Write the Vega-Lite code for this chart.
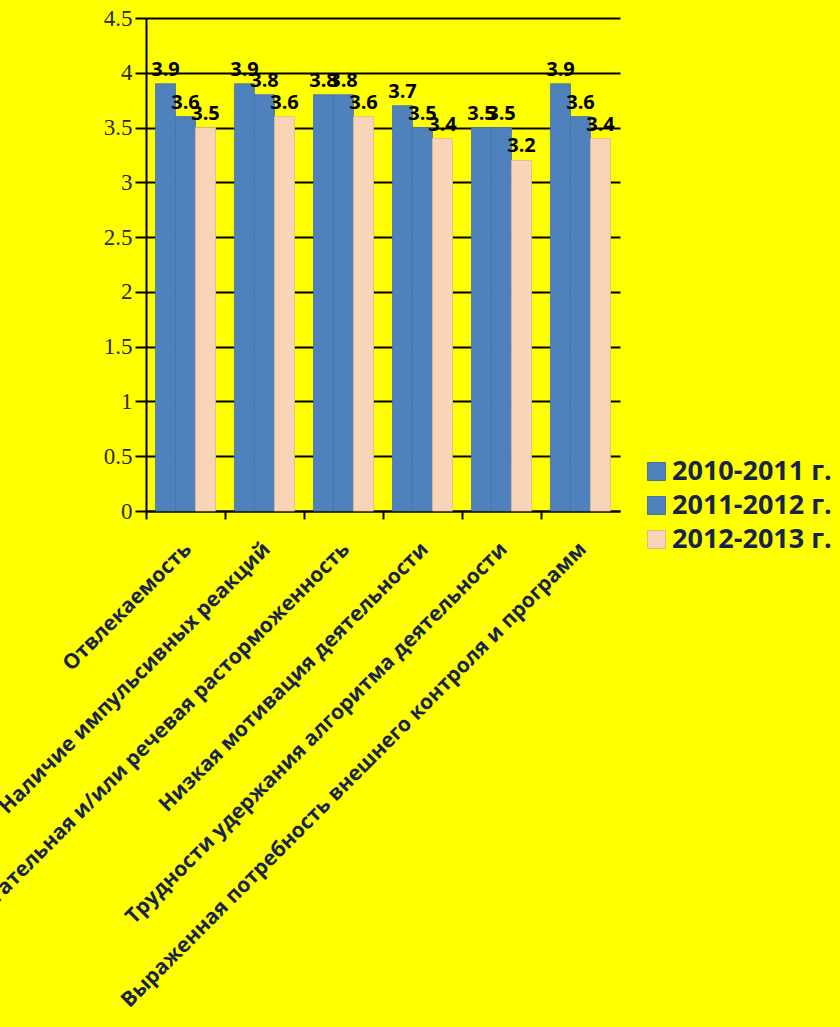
{
  "$schema": "https://vega.github.io/schema/vega-lite/v6.json",
  "autosize": {"type": "none"},
  "width": 474,
  "height": 493,
  "padding": {"left": 146, "top": 18, "right": 220, "bottom": 516},
  "background": "#FFFF00",
  "config": {"view": {"stroke": null}},
  "data": {
    "values": [
      {"cat": "Отвлекаемость", "series": "2010-2011 г.", "value": 3.9},
      {"cat": "Отвлекаемость", "series": "2011-2012 г.", "value": 3.6},
      {"cat": "Отвлекаемость", "series": "2012-2013 г.", "value": 3.5},
      {"cat": "Наличие импульсивных реакций", "series": "2010-2011 г.", "value": 3.9},
      {"cat": "Наличие импульсивных реакций", "series": "2011-2012 г.", "value": 3.8},
      {"cat": "Наличие импульсивных реакций", "series": "2012-2013 г.", "value": 3.6},
      {"cat": "Двигательная и/или речевая расторможенность", "series": "2010-2011 г.", "value": 3.8},
      {"cat": "Двигательная и/или речевая расторможенность", "series": "2011-2012 г.", "value": 3.8},
      {"cat": "Двигательная и/или речевая расторможенность", "series": "2012-2013 г.", "value": 3.6},
      {"cat": "Низкая мотивация деятельности", "series": "2010-2011 г.", "value": 3.7},
      {"cat": "Низкая мотивация деятельности", "series": "2011-2012 г.", "value": 3.5},
      {"cat": "Низкая мотивация деятельности", "series": "2012-2013 г.", "value": 3.4},
      {"cat": "Трудности удержания алгоритма деятельности", "series": "2010-2011 г.", "value": 3.5},
      {"cat": "Трудности удержания алгоритма деятельности", "series": "2011-2012 г.", "value": 3.5},
      {"cat": "Трудности удержания алгоритма деятельности", "series": "2012-2013 г.", "value": 3.2},
      {"cat": "Выраженная потребность внешнего контроля и программ", "series": "2010-2011 г.", "value": 3.9},
      {"cat": "Выраженная потребность внешнего контроля и программ", "series": "2011-2012 г.", "value": 3.6},
      {"cat": "Выраженная потребность внешнего контроля и программ", "series": "2012-2013 г.", "value": 3.4}
    ]
  },
  "encoding": {
    "x": {
      "field": "cat", "type": "nominal", "sort": null,
      "scale": {"paddingInner": 0.24, "paddingOuter": 0.12},
      "axis": {
        "title": null,
        "bandPosition": 0,
        "tickOffset": -9.5,
        "labelAngle": -45,
        "labelAlign": "right",
        "labelBaseline": "top",
        "labelOffset": 4,
        "labelPadding": 19,
        "labelLimit": 0,
        "labelFont": "Open Sans",
        "labelFontWeight": "bold",
        "labelFontSize": 21,
        "labelColor": "#17244A",
        "domainColor": "#000000",
        "domainWidth": 2,
        "tickColor": "#000000",
        "tickWidth": 2,
        "tickSize": 8
      }
    },
    "xOffset": {"field": "series", "type": "nominal", "scale": {"paddingInner": 0, "paddingOuter": 0}},
    "y": {
      "field": "value", "type": "quantitative",
      "scale": {"domain": [0, 4.5], "nice": false},
      "axis": {
        "title": null,
        "values": [0, 0.5, 1, 1.5, 2, 2.5, 3, 3.5, 4, 4.5],
        "format": "~g",
        "labelFont": "Liberation Serif",
        "labelFontSize": 23,
        "labelColor": "#2a2a33",
        "labelPadding": 3,
        "domainColor": "#000000",
        "domainWidth": 2,
        "tickColor": "#000000",
        "tickWidth": 2,
        "tickSize": 11,
        "grid": true,
        "gridColor": "#000000",
        "gridWidth": 2,
        "gridOpacity": 1
      }
    }
  },
  "layer": [
    {
      "mark": {"type": "bar", "strokeWidth": 0.8},
      "encoding": {
        "color": {
          "field": "series", "type": "nominal",
          "scale": {"domain": ["2010-2011 г.", "2011-2012 г.", "2012-2013 г."], "range": ["#4F81BD", "#4F81BD", "#FAD4B6"]},
          "legend": {
            "title": null,
            "orient": "none",
            "legendX": 497,
            "legendY": 440,
            "symbolType": "square",
            "symbolSize": 324,
            "symbolStrokeColor": "#999999",
            "symbolStrokeWidth": 1,
            "symbolOpacity": 1,
            "labelFont": "Open Sans",
            "labelFontWeight": "bold",
            "labelFontSize": 27,
            "labelColor": "#17244A",
            "labelOffset": 2,
            "rowPadding": 6,
            "labelLimit": 0
          }
        },
        "stroke": {
          "field": "series", "type": "nominal",
          "scale": {"domain": ["2010-2011 г.", "2011-2012 г.", "2012-2013 г."], "range": ["#4573AA", "#4573AA", "#D9B89E"]},
          "legend": null
        }
      }
    },
    {
      "mark": {"type": "text", "baseline": "alphabetic", "dy": -8, "font": "Open Sans", "fontWeight": "bold", "fontSize": 20, "color": "#000000"},
      "encoding": {
        "text": {"field": "value", "type": "quantitative", "format": ".1f"}
      }
    }
  ]
}
